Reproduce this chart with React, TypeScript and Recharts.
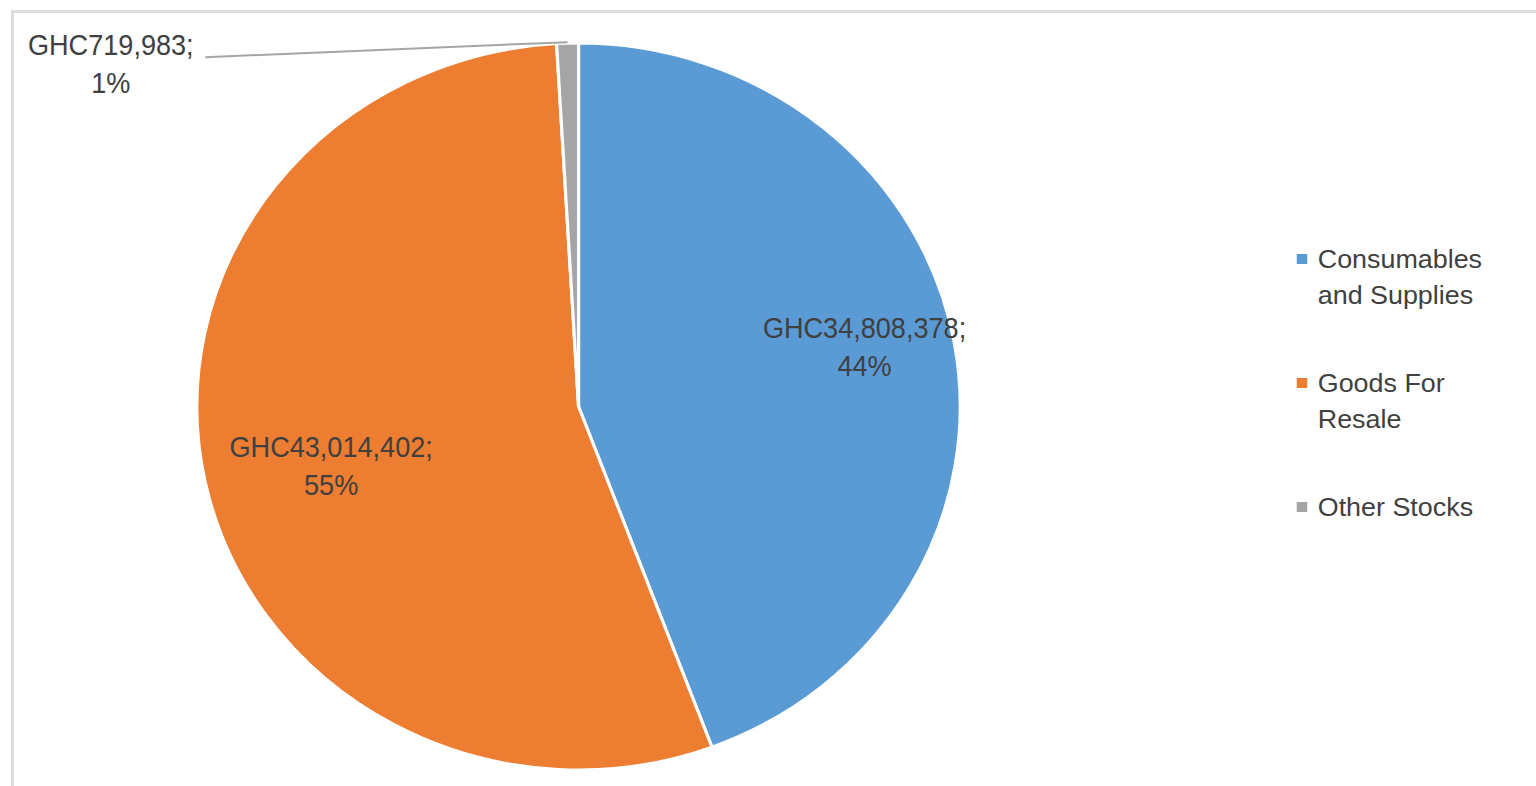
import { PieChart, Pie, Cell, Legend } from "recharts"

const categories = ["Consumables and Supplies", "Goods For Resale", "Other Stocks"]
const amounts = [34808378, 43014402, 719983]
const colors = ["#5B9BD5", "#ED7D31", "#A5A5A5"]

const data = categories.map((name, i) => ({ name, value: amounts[i] }))

// the reference is stretched a bit wider than tall
const STRETCH = 1.05
const W = 1536 / STRETCH
const H = 786
const TEXT = "#404040"
const FONT = "'Liberation Sans', Arial, sans-serif"
const RADIAN = Math.PI / 180

// where the inside labels sit: share of the radius, and a small angle nudge
const insideLabelRadius = [0.767, 0.668, 0.7]
const LABEL_ANGLE_NUDGE = 2.1
const LABEL_SIZE = 30
const LABEL_SQUEEZE = 0.86
const LINE_GAP = 38

function LabelLines({ x, y, line1, line2 }: { x: number; y: number; line1: string; line2: string }) {
  return (
    <g
      transform={`translate(${x} ${y}) scale(${LABEL_SQUEEZE} 1)`}
      fill={TEXT}
      fontSize={LABEL_SIZE}
      fontFamily={FONT}
    >
      <text x={0} y={-LINE_GAP / 2} textAnchor="middle" dominantBaseline="central">
        {line1}
      </text>
      <text x={0} y={LINE_GAP / 2} textAnchor="middle" dominantBaseline="central">
        {line2}
      </text>
    </g>
  )
}

function renderLabel(props: any) {
  const { cx, cy, midAngle, outerRadius, percent, value, index } = props
  const line1 = "GHC" + Number(value).toLocaleString("en-US") + ";"
  const line2 = Math.round(percent * 100) + "%"

  if (percent < 0.05) {
    const ox = cx + outerRadius * Math.cos(-midAngle * RADIAN)
    const oy = cy + outerRadius * Math.sin(-midAngle * RADIAN)
    return (
      <g>
        <line x1={ox} y1={oy - 1} x2={ox - 345} y2={oy + 14} stroke="#A5A5A5" strokeWidth={2} />
        <LabelLines x={ox - 435} y={oy + 20} line1={line1} line2={line2} />
      </g>
    )
  }

  const a = (midAngle + LABEL_ANGLE_NUDGE) * RADIAN
  const r = outerRadius * insideLabelRadius[index]
  return <LabelLines x={cx + r * Math.cos(-a)} y={cy + r * Math.sin(-a)} line1={line1} line2={line2} />
}

function LegendContent(props: any) {
  const { payload } = props
  return (
    <div style={{ fontFamily: FONT, fontSize: 25.6, color: TEXT, lineHeight: "36px" }}>
      {(payload || []).map((entry: any, i: number) => (
        <div key={i} style={{ display: "flex", alignItems: "flex-start", marginBottom: 52 }}>
          <div style={{ width: 10, height: 10, background: entry.color, marginTop: 13, marginRight: 10 }} />
          <div style={{ width: 165 }}>{entry.value}</div>
        </div>
      ))}
    </div>
  )
}

export default function App() {
  return (
    <div style={{ position: "absolute", left: 0, top: 0, width: 1536, height: 786, overflow: "hidden", background: "#fff" }}>
      <div
        style={{
          position: "absolute",
          left: 11,
          top: 10,
          width: 1700,
          height: 900,
          border: "3px solid #DCDCDC",
        }}
      />
      <div style={{ position: "absolute", left: 0, top: 0, width: W, height: H, transform: `scaleX(${STRETCH})`, transformOrigin: "0 0" }}>
        <PieChart width={W} height={H} margin={{ top: 0, right: 0, bottom: 0, left: 0 }}>
          <Pie
            data={data}
            dataKey="value"
            nameKey="name"
            cx={551}
            cy={406.5}
            outerRadius={363.5}
            startAngle={90}
            endAngle={-270}
            stroke="#fff"
            strokeWidth={3}
            label={renderLabel}
            labelLine={false}
            isAnimationActive={false}
          >
            {data.map((d, i) => (
              <Cell key={d.name} fill={colors[i]} />
            ))}
          </Pie>
          <Legend
            layout="vertical"
            content={<LegendContent />}
            wrapperStyle={{ position: "absolute", left: 1235, top: 241, width: 200 }}
          />
        </PieChart>
      </div>
    </div>
  )
}
